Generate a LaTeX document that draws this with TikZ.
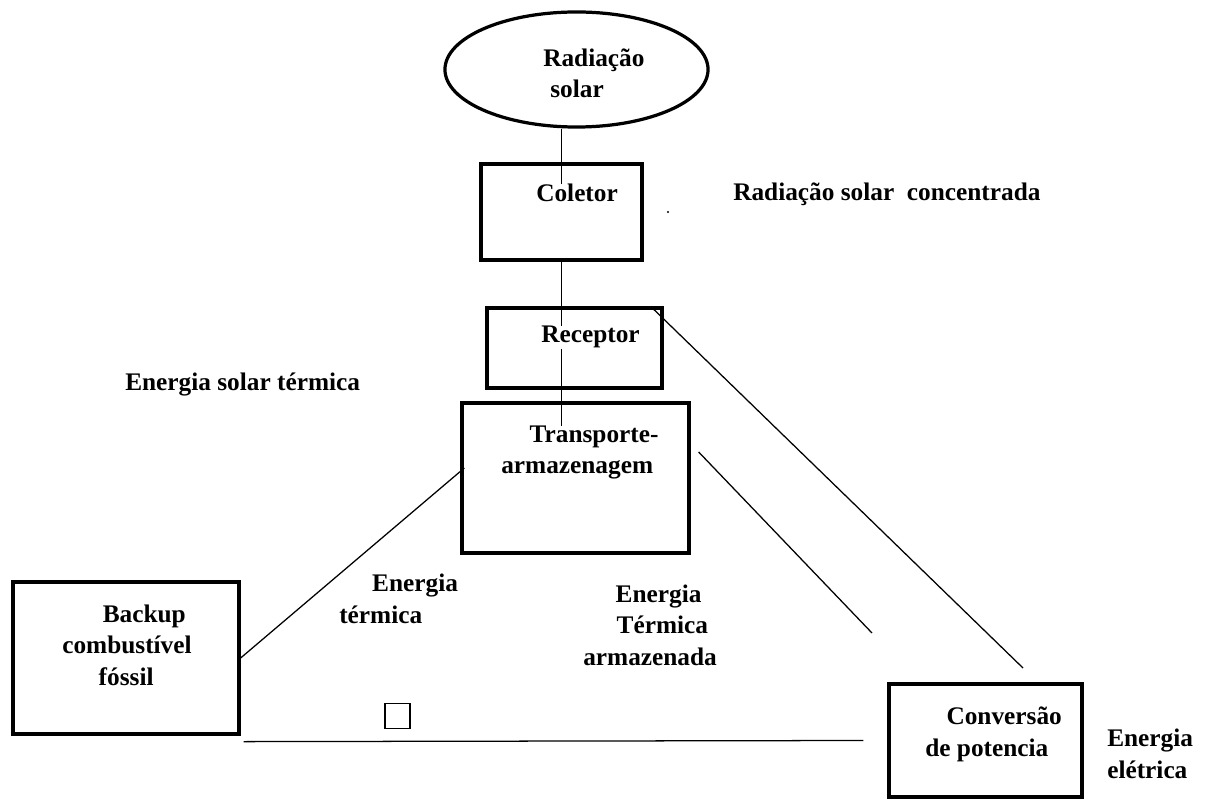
\documentclass[tikz,border=0pt]{standalone}
\usepackage{fontspec}
\setmainfont{Liberation Serif}
\usetikzlibrary{shapes.geometric}

\begin{document}
\begin{tikzpicture}[x=0.025cm, y=-0.025cm,
        font=\fontsize{18}{22.4}\selectfont\bfseries,
        caixa/.style={draw, rectangle, line width=2.3pt, inner sep=0pt},
        texto/.style={anchor=base west, align=left, inner sep=0pt},
        fio/.style={line width=0.9pt}]
        \useasboundingbox (0,0) rectangle (1206,800);

        % blocos
        \node[draw, ellipse, line width=2.3pt, minimum width=6.575cm, minimum height=2.875cm, inner sep=0pt] (sol) at (576.5,69.5) {};
        \node[caixa, minimum width=4.025cm, minimum height=2.4cm] (coletor) at (561.5,212) {};
        \node[caixa, minimum width=4.375cm, minimum height=2cm] (receptor) at (574.5,348) {};
        \node[caixa, minimum width=5.675cm, minimum height=3.75cm] (transporte) at (575.5,478) {};
        \node[caixa, minimum width=5.65cm, minimum height=3.8cm] (backup) at (126,658) {};
        \node[caixa, minimum width=4.825cm, minimum height=2.825cm] (conversao) at (985.5,740.5) {};
        \node[draw, fio, minimum size=0.62cm, inner sep=0pt] (quadrado) at (397.5,716) {};
        \node[circle, fill, inner sep=0pt, minimum size=1.6pt] (ponto) at (668,212) {};

        % textos (varias linhas: ancora na ultima linha)
        \node[texto] (tsol) at (543,98) {Radiação\\\hspace*{0.28em}solar};
        \node[texto] (tcoletor) at (536,202) {Coletor};
        \node[texto] (tconcentrada) at (733,201) {Radiação solar\ \ concentrada};
        \node[texto] (treceptor) at (541,343) {Receptor};
        \node[texto] (tsolartermica) at (125,391) {Energia solar térmica};
        \node[texto] (ttransporte) at (501,474) {\hspace*{1.12em}Transporte-\\armazenagem};
        \node[texto] (tbackup) at (62,685) {\hspace*{1.6em}Backup\\combustível\\\hspace*{1.44em}fóssil};
        \node[texto] (ttermica) at (339,623) {\hspace*{1.3em}Energia\\térmica};
        \node[texto] (tarmazenada) at (583,665) {\hspace*{1.28em}Energia\\\hspace*{1.32em}Térmica\\armazenada};
        \node[texto] (tconversao) at (925,756) {\hspace*{0.84em}Conversão\\de potencia};
        \node[texto] (teletrica) at (1107,778) {Energia\\elétrica};

        % pontas soltas
        \coordinate (c1) at (1023,668);
        \coordinate (c2) at (872,633);

        % ligacoes
        \draw[fio] (sol.south -| coletor.north) -- (coletor.north |- tcoletor.north);
        \draw[fio] (coletor.south) -- (coletor.south |- treceptor.north);
        \draw[fio] (treceptor.south -| coletor.south) -- (coletor.south |- ttransporte.north);
        \draw[fio] ([shift={(-13,0)}]receptor.north east) -- (c1);
        \draw[fio] ([shift={(8,-26)}]transporte.east) -- (c2);
        \draw[fio] (backup.east) -- ([shift={(4,-10)}]transporte.west);
        \draw[fio] ([shift={(3,6)}]backup.south east) -- ([shift={(-24,0)}]conversao.west);
    \end{tikzpicture}
\end{document}
